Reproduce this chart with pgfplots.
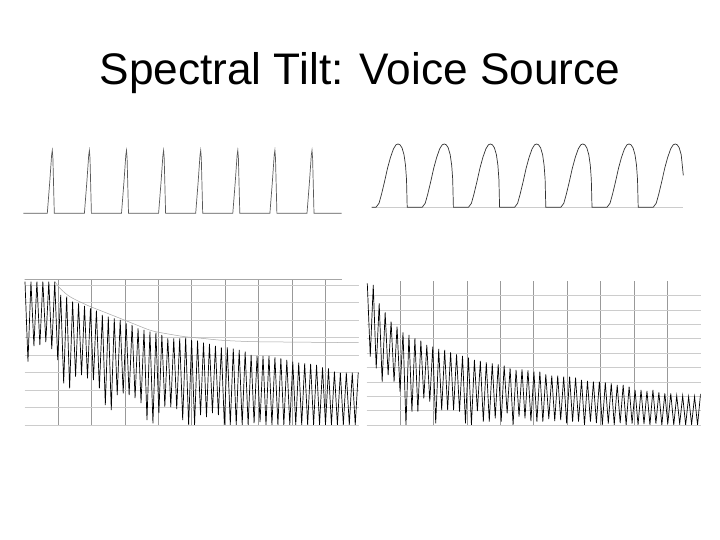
\documentclass[border=0pt]{standalone}
\usepackage{fontspec}
\setmainfont{Liberation Sans}
\usepackage{pgfplots}
\pgfplotsset{compat=1.18}
\pgfplotsset{
  wave/.style={scale only axis, hide axis, clip=false, anchor=south west},
  spec/.style={scale only axis, width=334bp, anchor=south west,
    axis line style={draw=none}, major tick length=0pt, tick style={draw=none},
    xticklabel=\empty, yticklabel=\empty, ticklabel style={opacity=0},
    grid=major,
    x grid style={black!40, line width=0.6bp},
    y grid style={black!20, line width=0.5bp}},
}
\begin{document}
\begin{tikzpicture}
\path[fill=white] (0bp,0bp) rectangle (720bp,540bp);
\node[anchor=base, font=\fontsize{44.2bp}{52bp}\selectfont] at (360bp,455bp) {Spectral Tilt: Voice Source};

% top left: pulse train
\begin{axis}[wave, at={(23.3bp,326.7bp)}, width=318.4bp, height=63bp,
  xmin=0, xmax=318.4, ymin=0, ymax=63]
\addplot[black!65, line width=0.7bp] coordinates {
 (0,0) (24,0) (26.5,32) (28.3,58) (29,63) (29.6,55) (31,0)
 (61.1,0) (63.6,32) (65.4,58) (66.1,63) (66.7,55) (68.1,0)
 (98.2,0) (100.7,32) (102.5,58) (103.2,63) (103.8,55) (105.2,0)
 (135.3,0) (137.8,32) (139.6,58) (140.3,63) (140.9,55) (142.3,0)
 (172.4,0) (174.9,32) (176.7,58) (177.4,63) (178,55) (179.4,0)
 (209.5,0) (212,32) (213.8,58) (214.5,63) (215.1,55) (216.5,0)
 (246.6,0) (249.1,32) (250.9,58) (251.6,63) (252.2,55) (253.6,0)
 (283.7,0) (286.2,32) (288,58) (288.7,63) (289.3,55) (290.7,0)
 (318.4,0)};
\end{axis}

% top right: glottal flow
\begin{axis}[wave, at={(371.7bp,332.7bp)}, width=311.6bp, height=63.3bp,
  xmin=0, xmax=311.6, ymin=0, ymax=63.3]
\addplot[black!20, line width=0.6bp] coordinates {(0,0) (311.6,0)};
\addplot[black!80, line width=0.7bp] coordinates {
 (0,0) (4.3,0) (7.3,4) (9.8,13) (12.8,25.5) (15.8,39) (18.8,50) (21.8,58.5) (24.3,62.5) (26.3,63.3) (28.3,62.5) (30.3,59.5) (32.3,52.6) (33.8,42) (34.8,28) (35.5,0)
 (50.5,0) (53.5,4) (56,13) (59,25.5) (62,39) (65,50) (68,58.5) (70.5,62.5) (72.5,63.3) (74.5,62.5) (76.5,59.5) (78.5,52.6) (80,42) (81,28) (81.7,0)
 (96.7,0) (99.7,4) (102.2,13) (105.2,25.5) (108.2,39) (111.2,50) (114.2,58.5) (116.7,62.5) (118.7,63.3) (120.7,62.5) (122.7,59.5) (124.7,52.6) (126.2,42) (127.2,28) (127.9,0)
 (142.9,0) (145.9,4) (148.4,13) (151.4,25.5) (154.4,39) (157.4,50) (160.4,58.5) (162.9,62.5) (164.9,63.3) (166.9,62.5) (168.9,59.5) (170.9,52.6) (172.4,42) (173.4,28) (174.1,0)
 (189.1,0) (192.1,4) (194.6,13) (197.6,25.5) (200.6,39) (203.6,50) (206.6,58.5) (209.1,62.5) (211.1,63.3) (213.1,62.5) (215.1,59.5) (217.1,52.6) (218.6,42) (219.6,28) (220.3,0)
 (235.3,0) (238.3,4) (240.8,13) (243.8,25.5) (246.8,39) (249.8,50) (252.8,58.5) (255.3,62.5) (257.3,63.3) (259.3,62.5) (261.3,59.5) (263.3,52.6) (264.8,42) (265.8,28) (266.5,0)
 (281.5,0) (284.5,4) (287,13) (290,25.5) (293,39) (296,50) (299,58.5) (301.5,62.5) (303.5,63.3) (305.5,62.5) (307.5,59.5) (309.5,52.6) (311.6,32)};
\end{axis}

% bottom left: spectrum of pulse train (x = harmonic number)
\begin{axis}[spec, at={(24.7bp,115bp)}, height=146bp,
  xmin=-0.05, xmax=56.08, ymin=0, ymax=146,
  xtick={5.563,11.176,16.789,22.402,28.015,33.628,39.241,44.854,50.467},
  ytick={0,17.5,35,52.5,70,87.5,105,122.5,140}]
\addplot[black!35, line width=0.5bp] coordinates {(-0.17,145.7) (53.28,145.7)};
\addplot[black!35, line width=0.5bp, smooth] coordinates {
 (5.04,143.3) (5.88,136.7) (7.56,128.3) (10.37,120) (13.16,113.3) (15.97,106.7) (18.77,100)
 (21.29,94.3) (24.08,91) (26.89,88.3) (29.7,86.7) (32.49,85) (35.29,84) (38.66,83.3)
 (43.41,83) (49.03,82.7) (56.08,82.3)};
\addplot[black, line width=0.7bp] coordinates {
 (0,143.3) (0.5,63.3) (1,143.3) (1.5,79) (2,143.3) (2.5,80) (3,143.3) (3.5,83) (4,143.3) (4.5,76)
 (5,143.3) (5.5,65) (6,130) (6.5,41.7) (7,128.3) (7.5,36.7) (8,123.3) (8.5,48.3) (9,121.7) (9.5,50)
 (10,119) (10.5,46.7) (11,116.7) (11.5,45) (12,114.3) (12.5,36.7) (13,110) (13.5,20) (14,108.3) (14.5,15)
 (15,106.7) (15.5,30) (16,105) (16.5,31.7) (17,101.7) (17.5,30) (18,100) (18.5,27) (19,96.7) (19.5,22)
 (20,95) (20.5,5) (21,93.3) (21.5,1.7) (22,92.3) (22.5,12) (23,90) (23.5,18.3) (24,86.7) (24.5,18)
 (25,86.7) (25.5,16) (26,86.7) (26.5,5) (27,87.3) (27.5,0) (28,85) (28.5,0) (29,84.3) (29.5,10)
 (30,82.3) (30.5,8) (31,81) (31.5,12) (32,79) (32.5,10) (33,77.7) (33.5,0) (34,77.7) (34.5,0)
 (35,76.3) (35.5,0) (36,75) (36.5,0) (37,73.3) (37.5,0) (38,70) (38.5,2) (39,69) (39.5,3)
 (40,69) (40.5,0) (41,69) (41.5,0) (42,67.7) (42.5,0) (43,66.7) (43.5,0) (44,65) (44.5,0)
 (45,63.3) (45.5,0) (46,62.3) (46.5,0) (47,61.7) (47.5,0) (48,61) (48.5,0) (49,60) (49.5,0)
 (50,57.7) (50.5,0) (51,56.7) (51.5,0) (52,53.3) (52.5,0) (53,52.3) (53.5,0) (54,52.3) (54.5,0)
 (55,52.3) (55.5,0) (56,52.3)};
\end{axis}

% bottom right: spectrum of glottal flow
\begin{axis}[spec, at={(366.7bp,115bp)}, height=144bp,
  xmin=-0.1, xmax=56.03, ymin=0, ymax=144,
  xtick={5.496,11.109,16.722,22.335,27.948,33.561,39.174,44.787,50.4},
  ytick={0,14.4,28.8,43.2,57.6,72,86.4,100.8,115.2,129.6}]
\addplot[black, line width=0.7bp] coordinates {
 (0,141.7) (0.5,68.3) (1,140) (1.5,56.7) (2,121.7) (2.5,43.3) (3,112.7) (3.5,50) (4,103.3) (4.5,43.3)
 (5,98.3) (5.5,33.3) (6,92.7) (6.5,0) (7,90) (7.5,13.3) (8,86.7) (8.5,13.3) (9,84.3) (9.5,26.7)
 (10,80) (10.5,23.3) (11,78.3) (11.5,1.7) (12,76) (12.5,15) (13,75) (13.5,15) (14,72.7) (14.5,15)
 (15,70.7) (15.5,13.3) (16,69) (16.5,1.7) (17,67.3) (17.5,0) (18,65) (18.5,14) (19,64) (19.5,3.3)
 (20,62.7) (20.5,3.3) (21,61.7) (21.5,6.7) (22,60.7) (22.5,3.3) (23,59.3) (23.5,11.7) (24,56.7) (24.5,0)
 (25,55) (25.5,8.3) (26,55.7) (26.5,6.7) (27,54.7) (27.5,4) (28,53.3) (28.5,3.3) (29,53.3) (29.5,3.3)
 (30,50.7) (30.5,6) (31,49.3) (31.5,4) (32,49.3) (32.5,5) (33,48.3) (33.5,1.7) (34,48.3) (34.5,3.3)
 (35,47.3) (35.5,3.3) (36,45) (36.5,0) (37,44) (37.5,3.3) (38,43.3) (38.5,2) (39,43.3) (39.5,0)
 (40,42.7) (40.5,1.5) (41,41.7) (41.5,0) (42,40) (42.5,2) (43,40) (43.5,0) (44,38.3) (44.5,1.5)
 (45,35) (45.5,0) (46,35) (46.5,1) (47,34) (47.5,0) (48,35) (48.5,1.5) (49,32.7) (49.5,0)
 (50,31.7) (50.5,1) (51,31.7) (51.5,0) (52,29.3) (52.5,1) (53,29.3) (53.5,0) (54,28.3) (54.5,0.5)
 (55,28.3) (55.5,0) (56,31)};
\end{axis}
\end{tikzpicture}
\end{document}
